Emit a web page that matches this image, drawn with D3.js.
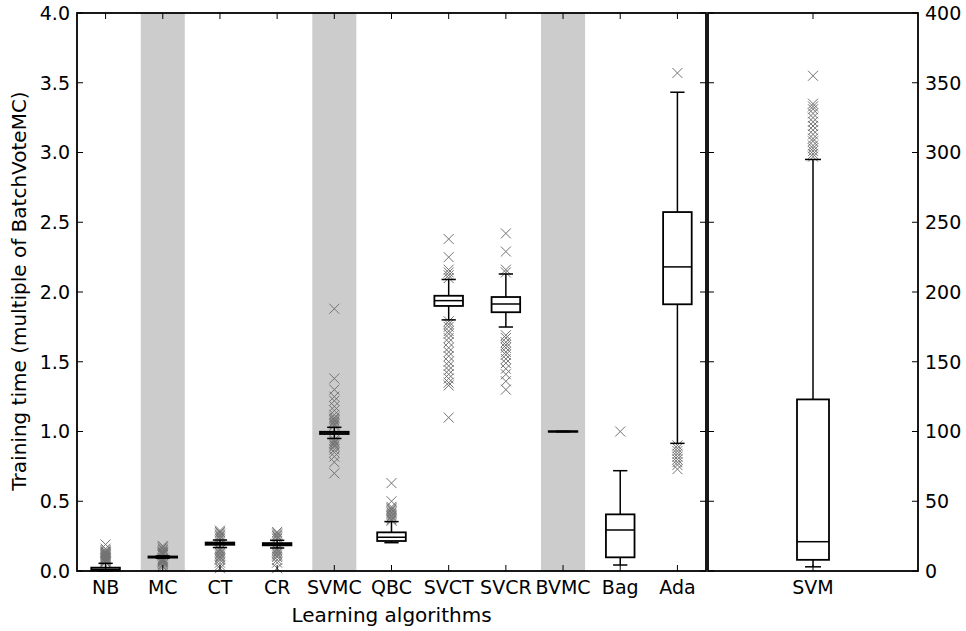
<!DOCTYPE html>
<html>
<head>
<meta charset="utf-8">
<script src="https://cdn.jsdelivr.net/npm/d3@7"></script>
<style>
  body { margin: 0; background: #fff; }
  text { font-family: "DejaVu Sans", sans-serif; font-size: 19px; fill: #000; }
  text.axis-title { font-size: 20px; }
</style>
</head>
<body>
<div id="root"></div>
<script>
const categories = ['NB', 'MC', 'CT', 'CR', 'SVMC', 'QBC', 'SVCT', 'SVCR', 'BVMC', 'Bag', 'Ada'];
const shaded = ['MC', 'SVMC', 'BVMC'];
const whiskLo = [0.0, 0.092, 0.168, 0.165, 0.95, 0.203, 1.80, 1.749, 0.998, 0.043, 0.915];
const q1 = [0.004, 0.096, 0.188, 0.184, 0.982, 0.215, 1.90, 1.855, 0.998, 0.098, 1.912];
const medians = [0.012, 0.1, 0.196, 0.192, 0.99, 0.242, 1.938, 1.914, 1.0, 0.294, 2.18];
const q3 = [0.024, 0.104, 0.204, 0.2, 0.998, 0.277, 1.973, 1.964, 1.002, 0.406, 2.573];
const whiskHi = [0.055, 0.108, 0.222, 0.22, 1.03, 0.354, 2.09, 2.129, 1.002, 0.719, 3.432];
const outliers = [
  [0.06, 0.065, 0.07, 0.075, 0.08, 0.085, 0.09, 0.095, 0.1, 0.105, 0.11, 0.115, 0.12, 0.125, 0.13, 0.135, 0.14, 0.15, 0.16, 0.19],
  [0.03, 0.04, 0.05, 0.06, 0.065, 0.07, 0.075, 0.08, 0.085, 0.09, 0.115, 0.12, 0.125, 0.13, 0.135, 0.14, 0.15, 0.16, 0.17, 0.18],
  [0.02, 0.04, 0.06, 0.08, 0.09, 0.1, 0.11, 0.12, 0.13, 0.14, 0.15, 0.16, 0.23, 0.24, 0.25, 0.26, 0.27, 0.28, 0.29],
  [0.02, 0.06, 0.08, 0.1, 0.11, 0.12, 0.13, 0.14, 0.15, 0.16, 0.23, 0.24, 0.25, 0.26, 0.27, 0.28],
  [0.70, 0.78, 0.82, 0.85, 0.87, 0.89, 0.9, 0.91, 0.92, 0.93, 0.94, 1.04, 1.05, 1.06, 1.07, 1.08, 1.09, 1.1, 1.12, 1.15, 1.18, 1.22, 1.25, 1.3, 1.38, 1.88],
  [0.36, 0.37, 0.38, 0.39, 0.4, 0.41, 0.42, 0.43, 0.44, 0.45, 0.46, 0.5, 0.63],
  [2.1, 2.12, 2.14, 2.16, 2.25, 2.38, 1.79, 1.77, 1.75, 1.72, 1.7, 1.67, 1.64, 1.6, 1.57, 1.54, 1.5, 1.47, 1.44, 1.41, 1.38, 1.35, 1.33, 1.1],
  [2.14, 2.16, 2.29, 2.42, 1.69, 1.67, 1.64, 1.62, 1.6, 1.57, 1.55, 1.52, 1.49, 1.45, 1.41, 1.36, 1.3],
  [],
  [1.0],
  [3.57, 0.73, 0.76, 0.78, 0.8, 0.82, 0.84, 0.86, 0.88, 0.9]
];
const leftTicks = [0, 0.5, 1.0, 1.5, 2.0, 2.5, 3.0, 3.5, 4.0];

// second panel, own scale
const svmCategory = ['SVM'];
const svmStats = { lo: 3, q1: 8, med: 21, q3: 123, hi: 295 };
const svmOutliers = [297, 299, 301, 303, 305, 308, 310, 313, 316, 319, 322, 325, 328, 331, 333, 335, 355];
const rightTicks = [0, 50, 100, 150, 200, 250, 300, 350, 400];

const w = 966;
const h = 631;
const yTop = 13, yBottom = 571;
const leftX0 = 77, leftX1 = 706, rightX0 = 708, rightX1 = 918;
const tickLen = 6;

const svg = d3.select('#root')
  .append('svg')
  .attr('width', w)
  .attr('height', h);

const y = d3.scaleLinear().domain([0, 4]).range([yBottom, yTop]);
const y2 = d3.scaleLinear().domain([0, 400]).range([yBottom, yTop]);
const x = d3.scaleBand().domain(categories).range([leftX0, leftX1]);
const x2 = d3.scaleBand().domain(svmCategory).range([rightX0, rightX1]);
const bw = x.bandwidth();

// shaded columns
svg.selectAll('rect.shade')
  .data(shaded)
  .enter()
  .append('rect')
  .attr('class', 'shade')
  .attr('x', d => x(d) + bw / 2 - bw * 0.385)
  .attr('y', yTop)
  .attr('width', bw * 0.77)
  .attr('height', yBottom - yTop)
  .attr('fill', '#cccccc');

const boxes = categories.map((c, i) => ({
  cx: x(c) + bw / 2, lo: whiskLo[i], q1: q1[i], med: medians[i], q3: q3[i], hi: whiskHi[i],
  out: outliers[i], boxW: bw * 0.5, scale: y
}));
boxes.push({
  cx: x2('SVM') + x2.bandwidth() / 2, lo: svmStats.lo, q1: svmStats.q1, med: svmStats.med,
  q3: svmStats.q3, hi: svmStats.hi, out: svmOutliers, boxW: 32, scale: y2
});

function drawBox(b) {
  const g = svg.append('g');
  const s = b.scale;
  const cross = 5;
  b.out.forEach(v => {
    g.append('path')
      .attr('d', `M${b.cx - cross},${s(v) - cross}L${b.cx + cross},${s(v) + cross}M${b.cx - cross},${s(v) + cross}L${b.cx + cross},${s(v) - cross}`)
      .attr('stroke', '#737373')
      .attr('stroke-width', 1)
      .attr('fill', 'none');
  });
  const capW = b.boxW / 2;
  // whiskers
  g.append('line')
    .attr('x1', b.cx).attr('x2', b.cx)
    .attr('y1', s(b.lo)).attr('y2', s(b.q1))
    .attr('stroke', '#000').attr('stroke-width', 1.5);
  g.append('line')
    .attr('x1', b.cx).attr('x2', b.cx)
    .attr('y1', s(b.q3)).attr('y2', s(b.hi))
    .attr('stroke', '#000').attr('stroke-width', 1.5);
  [b.lo, b.hi].forEach(v => {
    g.append('line')
      .attr('x1', b.cx - capW / 2).attr('x2', b.cx + capW / 2)
      .attr('y1', s(v)).attr('y2', s(v))
      .attr('stroke', '#000').attr('stroke-width', 1.5);
  });
  g.append('rect')
    .attr('x', b.cx - b.boxW / 2)
    .attr('y', s(b.q3))
    .attr('width', b.boxW)
    .attr('height', Math.max(s(b.q1) - s(b.q3), 0))
    .attr('fill', 'none')
    .attr('stroke', '#000')
    .attr('stroke-width', 1.8);
  g.append('line')
    .attr('x1', b.cx - b.boxW / 2).attr('x2', b.cx + b.boxW / 2)
    .attr('y1', s(b.med)).attr('y2', s(b.med))
    .attr('stroke', '#000').attr('stroke-width', 1.5);
}

boxes.forEach(drawBox);

// frames
[[leftX0, leftX1], [rightX0, rightX1]].forEach(([a, b]) => {
  svg.append('rect')
    .attr('x', a).attr('y', yTop)
    .attr('width', b - a).attr('height', yBottom - yTop)
    .attr('fill', 'none').attr('stroke', '#000').attr('stroke-width', 1.8);
});

// inward ticks
const tickG = svg.append('g').attr('stroke', '#000').attr('stroke-width', 1);
leftTicks.forEach(v => {
  tickG.append('line').attr('x1', leftX0).attr('x2', leftX0 + tickLen).attr('y1', y(v)).attr('y2', y(v));
  tickG.append('line').attr('x1', leftX1 - tickLen).attr('x2', leftX1).attr('y1', y(v)).attr('y2', y(v));
});
rightTicks.forEach(v => {
  tickG.append('line').attr('x1', rightX1 - tickLen).attr('x2', rightX1).attr('y1', y2(v)).attr('y2', y2(v));
  tickG.append('line').attr('x1', rightX0).attr('x2', rightX0 + tickLen).attr('y1', y2(v)).attr('y2', y2(v));
});
boxes.forEach(b => {
  tickG.append('line').attr('x1', b.cx).attr('x2', b.cx).attr('y1', yBottom).attr('y2', yBottom - tickLen);
  tickG.append('line').attr('x1', b.cx).attr('x2', b.cx).attr('y1', yTop).attr('y2', yTop + tickLen);
});

// tick labels
svg.selectAll('text.yl')
  .data(leftTicks)
  .enter()
  .append('text')
  .attr('class', 'yl')
  .attr('x', leftX0 - 7)
  .attr('y', d => y(d))
  .attr('dy', '0.36em')
  .attr('text-anchor', 'end')
  .text(d => d.toFixed(1));

svg.selectAll('text.yr')
  .data(rightTicks)
  .enter()
  .append('text')
  .attr('class', 'yr')
  .attr('x', rightX1 + 7)
  .attr('y', d => y2(d))
  .attr('dy', '0.36em')
  .attr('text-anchor', 'start')
  .text(d => d);

svg.selectAll('text.xl')
  .data(categories.concat(svmCategory))
  .enter()
  .append('text')
  .attr('class', 'xl')
  .attr('x', (d, i) => boxes[i].cx)
  .attr('y', 594)
  .attr('text-anchor', 'middle')
  .text(d => d);

svg.append('text')
  .attr('class', 'axis-title')
  .attr('x', (leftX0 + leftX1) / 2)
  .attr('y', 622)
  .attr('text-anchor', 'middle')
  .text('Learning algorithms');

svg.append('text')
  .attr('class', 'axis-title')
  .attr('transform', `translate(26,${(yTop + yBottom) / 2 - 1}) rotate(-90)`)
  .attr('text-anchor', 'middle')
  .text('Training time (multiple of BatchVoteMC)');
</script>
</body>
</html>
